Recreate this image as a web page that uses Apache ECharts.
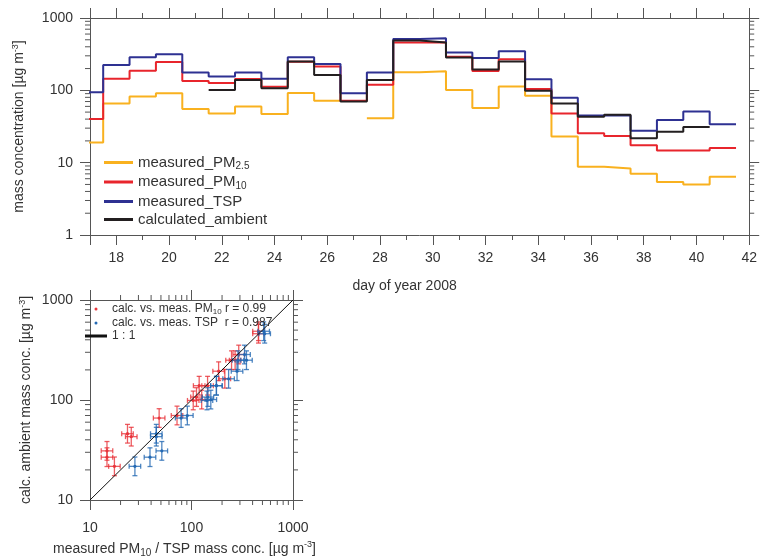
<!DOCTYPE html>
<html>
<head>
<meta charset="utf-8">
<script src="https://cdn.jsdelivr.net/npm/echarts@6/dist/echarts.min.js"></script>
<style>
  html, body { margin: 0; padding: 0; background: #fff; }
  #chart { width: 760px; height: 559px; }
</style>
</head>
<body>
<div id="chart"></div>
<script>
// daily values, day of year 2008
var days = [17, 18, 19, 20, 21, 22, 23, 24, 25, 26, 27, 28, 29, 30, 31, 32, 33, 34, 35, 36, 37, 38, 39, 40, 41]
var pm25 = [19, 66, 82, 91, 55, 48, 60, 47, 92, 72, null, 41, 178, 184, 101, 57, 113, 84, 23, 8.8, 8.3, 7.0, 5.4, 5.0, 6.4]
var pm10 = [40, 145, 187, 247, 135, 126, 144, 112, 248, 213, 72, 119, 457, 457, 292, 185, 269, 104, 48, 25.5, 23.4, 17.4, 14.7, 14.7, 16]
var tsp = [94, 224, 287, 316, 176, 155, 176, 145, 287, 232, 91, 176, 514, 526, 333, 281, 348, 142, 79, 45, 45, 27.7, 39, 51, 34]
var calc = [null, null, null, null, null, 101, 139, 107, 250, 163, 70, 139, 487, 460, 285, 194, 250, 99, 66, 43, 46, 21.7, 26.8, 31, null]

// minor ticks of the log axes
var minorTop = [2, 3, 4, 5, 6, 7, 8, 9, 20, 30, 40, 50, 60, 70, 80, 90, 200, 300, 400, 500, 600, 700, 800, 900]
var minorBottom = [20, 30, 40, 50, 60, 70, 80, 90, 200, 300, 400, 500, 600, 700, 800, 900]

var rPm10 = '0.99'
var rTsp = '0.987'
// error bars are multiplicative factors
var errX = 1.14
var errY = 1.24

var font = 'Liberation Sans, Arial, sans-serif'
var txt = '#333'
var axisCol = '#555'

// each day is drawn as a flat step from d-0.5 to d+0.5
function stepData(vals) {
  var out = []
  vals.forEach(function(v, i) {
    if (v == null) {
      out.push([days[i], null])
    } else {
      out.push([days[i] - 0.5, v], [days[i] + 0.5, v])
    }
  })
  return out
}

function pairs(meas) {
  var out = []
  days.forEach(function(d, i) {
    if (meas[i] != null && calc[i] != null) out.push([meas[i], calc[i]])
  })
  return out
}

function logLabel(v) {
  return String(Math.round(v))
}

function axisBase(extra) {
  var a = {
    axisLine: { show: true, onZero: false, lineStyle: { color: axisCol, width: 1 } },
    axisTick: { show: true, inside: false, length: 10, lineStyle: { color: axisCol } },
    minorTick: { show: false },
    splitLine: { show: false },
    axisLabel: { color: txt, fontSize: 14, fontFamily: font },
    nameTextStyle: { color: txt, fontSize: 14, fontFamily: font }
  }
  return Object.assign(a, extra)
}

function errorBars(params, api) {
  var x = api.value(0)
  var y = api.value(1)
  var c = api.coord([x, y])
  var xl = api.coord([x / errX, y])[0]
  var xr = api.coord([x * errX, y])[0]
  var yb = api.coord([x, y / errY])[1]
  var yt = api.coord([x, y * errY])[1]
  var color = api.visual('color')
  var st = { stroke: color, lineWidth: 1.3, opacity: 0.8 }
  var cap = 2.5
  return {
    type: 'group',
    children: [
      { type: 'line', shape: { x1: xl, y1: c[1], x2: xr, y2: c[1] }, style: st },
      { type: 'line', shape: { x1: c[0], y1: yb, x2: c[0], y2: yt }, style: st },
      { type: 'line', shape: { x1: xl, y1: c[1] - cap, x2: xl, y2: c[1] + cap }, style: st },
      { type: 'line', shape: { x1: xr, y1: c[1] - cap, x2: xr, y2: c[1] + cap }, style: st },
      { type: 'line', shape: { x1: c[0] - cap, y1: yb, x2: c[0] + cap, y2: yb }, style: st },
      { type: 'line', shape: { x1: c[0] - cap, y1: yt, x2: c[0] + cap, y2: yt }, style: st },
      { type: 'circle', shape: { cx: c[0], cy: c[1], r: 1.6 }, style: { fill: color } }
    ]
  }
}

// short outward ticks for the log axes (x and/or y)
function minorTicks(withX) {
  return function(params, api) {
    var cs = params.coordSys
    var p = api.coord([api.value(0), api.value(1)])
    var st = { stroke: axisCol, lineWidth: 1 }
    var kids = [
      { type: 'line', shape: { x1: cs.x - 5, y1: p[1], x2: cs.x, y2: p[1] }, style: st },
      { type: 'line', shape: { x1: cs.x + cs.width, y1: p[1], x2: cs.x + cs.width + 5, y2: p[1] }, style: st }
    ]
    if (withX) {
      kids.push(
        { type: 'line', shape: { x1: p[0], y1: cs.y + cs.height, x2: p[0], y2: cs.y + cs.height + 5 }, style: st },
        { type: 'line', shape: { x1: p[0], y1: cs.y - 5, x2: p[0], y2: cs.y }, style: st }
      )
    }
    return { type: 'group', children: kids }
  }
}

var subStyle = { fontSize: 10, fontFamily: font, color: txt, padding: [8, 0, 0, 0] }
var supStyle = { fontSize: 9, fontFamily: font, color: txt, padding: [0, 0, 8, 0] }

var chart = echarts.init(document.getElementById('chart'), null, { renderer: 'canvas' })

var option = {
  animation: false,
  textStyle: { fontFamily: font },
  grid: [
    { left: 90, top: 18, width: 667, height: 217 },
    { left: 90, top: 300, width: 203, height: 204 }
  ],
  legend: [
    {
      orient: 'vertical',
      left: 99,
      top: 150,
      itemWidth: 29,
      itemHeight: 3,
      itemGap: 3,
      icon: 'rect',
      data: ['measured_PM2.5', 'measured_PM10', 'measured_TSP', 'calculated_ambient'],
      formatter: function(name) {
        return name.replace(/PM(2\.5|10)/, 'PM{sub|$1}')
      },
      textStyle: { fontSize: 15, color: txt, fontFamily: font, rich: { sub: subStyle } }
    },
    {
      orient: 'vertical',
      left: 80,
      top: 298,
      itemWidth: 22,
      itemHeight: 3,
      itemGap: 1,
      data: [
        { name: 'calc. vs. meas. PM10', icon: 'circle' },
        { name: 'calc. vs. meas. TSP', icon: 'circle' },
        { name: '1 : 1', icon: 'rect' }
      ],
      formatter: function(name) {
        if (name === 'calc. vs. meas. PM10') return 'calc. vs. meas. PM{sub|10} r = ' + rPm10
        if (name === 'calc. vs. meas. TSP') return 'calc. vs. meas. TSP  r = ' + rTsp
        return name
      },
      textStyle: { fontSize: 12, color: txt, fontFamily: font,
        rich: { sub: { fontSize: 8, fontFamily: font, color: txt, padding: [6, 0, 0, 0] } } }
    }
  ],
  xAxis: [
    axisBase({
      gridIndex: 0, type: 'value', position: 'bottom', min: 17, max: 42, splitNumber: 12,
      name: 'day of year 2008', nameLocation: 'middle', nameGap: 44,
      nameTextStyle: { color: txt, fontSize: 14, fontFamily: font, padding: [0, 30, 0, 0] },
      minorTick: { show: true, splitNumber: 2, length: 5, lineStyle: { color: axisCol } },
      axisLabel: { color: txt, fontSize: 14, fontFamily: font, margin: 16,
        formatter: function(v) { return v % 2 === 0 ? String(v) : '' } }
    }),
    axisBase({
      gridIndex: 0, type: 'value', position: 'top', min: 17, max: 42, splitNumber: 12,
      minorTick: { show: true, splitNumber: 2, length: 5, lineStyle: { color: axisCol } },
      axisLabel: { show: false }
    }),
    axisBase({
      gridIndex: 1, type: 'log', logBase: 10, position: 'bottom', min: 10, max: 1000,
      name: 'measured PM{sub|10} / TSP mass conc. [µg m{sup|-3}]', nameLocation: 'middle', nameGap: 40,
      nameTextStyle: { color: txt, fontSize: 14, fontFamily: font, padding: [0, 14, 0, 0],
        rich: { sub: subStyle, sup: supStyle } },
      axisLabel: { color: txt, fontSize: 14, fontFamily: font, margin: 21, formatter: logLabel }
    }),
    axisBase({
      gridIndex: 1, type: 'log', logBase: 10, position: 'top', min: 10, max: 1000,
      axisLabel: { show: false }
    })
  ],
  yAxis: [
    axisBase({
      gridIndex: 0, type: 'log', logBase: 10, position: 'left', min: 1, max: 1000,
      name: 'mass concentration [µg m{sup|-3}]', nameLocation: 'middle', nameGap: 62,
      nameTextStyle: { color: txt, fontSize: 14, fontFamily: font, rich: { sup: supStyle } },
      axisLabel: { color: txt, fontSize: 14, fontFamily: font, margin: 17, formatter: logLabel }
    }),
    axisBase({
      gridIndex: 0, type: 'log', logBase: 10, position: 'right', min: 1, max: 1000,
      axisLabel: { show: false }
    }),
    axisBase({
      gridIndex: 1, type: 'log', logBase: 10, position: 'left', min: 10, max: 1000,
      name: 'calc. ambient mass conc. [µg m{sup|-3}]', nameLocation: 'middle', nameGap: 55,
      nameTextStyle: { color: txt, fontSize: 14, fontFamily: font, rich: { sup: supStyle } },
      axisLabel: { color: txt, fontSize: 14, fontFamily: font, margin: 17, formatter: logLabel }
    }),
    axisBase({
      gridIndex: 1, type: 'log', logBase: 10, position: 'right', min: 10, max: 1000,
      axisLabel: { show: false }
    })
  ],
  series: [
    { name: 'minorTop', type: 'custom', xAxisIndex: 0, yAxisIndex: 0, silent: true, clip: false,
      data: minorTop.map(function(v) { return [20, v] }), renderItem: minorTicks(false) },
    { name: 'minorBottom', type: 'custom', xAxisIndex: 2, yAxisIndex: 2, silent: true, clip: false,
      data: minorBottom.map(function(v) { return [v, v] }), renderItem: minorTicks(true) },
    { name: 'measured_PM2.5', type: 'line', xAxisIndex: 0, yAxisIndex: 0, data: stepData(pm25),
      color: '#f9b11f', showSymbol: false, lineStyle: { width: 2 } },
    { name: 'measured_PM10', type: 'line', xAxisIndex: 0, yAxisIndex: 0, data: stepData(pm10),
      color: '#e8252c', showSymbol: false, lineStyle: { width: 2 } },
    { name: 'measured_TSP', type: 'line', xAxisIndex: 0, yAxisIndex: 0, data: stepData(tsp),
      color: '#2e3192', showSymbol: false, lineStyle: { width: 2 } },
    { name: 'calculated_ambient', type: 'line', xAxisIndex: 0, yAxisIndex: 0, data: stepData(calc),
      color: '#231f20', showSymbol: false, lineStyle: { width: 2 } },
    { name: '1 : 1', type: 'line', xAxisIndex: 2, yAxisIndex: 2, data: [[10, 10], [1000, 1000]],
      color: '#111', showSymbol: false, lineStyle: { width: 1 } },
    { name: 'calc. vs. meas. PM10', type: 'custom', xAxisIndex: 2, yAxisIndex: 2,
      data: pairs(pm10), itemStyle: { color: '#e8343b' }, renderItem: errorBars },
    { name: 'calc. vs. meas. TSP', type: 'custom', xAxisIndex: 2, yAxisIndex: 2,
      data: pairs(tsp), itemStyle: { color: '#2469b3' }, renderItem: errorBars }
  ]
}

chart.setOption(option)
</script>
</body>
</html>
